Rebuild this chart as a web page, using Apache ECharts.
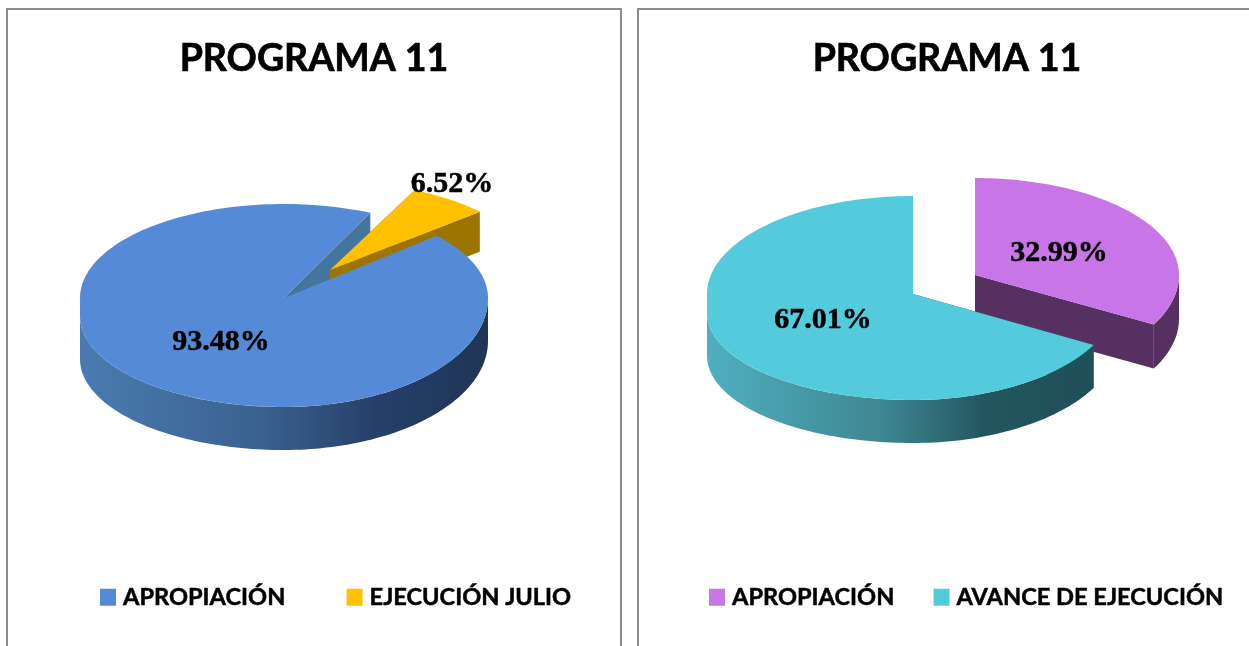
<!DOCTYPE html>
<html>
<head>
<meta charset="utf-8">
<style>html,body{margin:0;padding:0;background:#fff;overflow:hidden}#c{width:1249px;height:646px}</style>
<script src="https://cdn.jsdelivr.net/npm/echarts@6/dist/echarts.min.js"></script>
</head>
<body>
<div id="c"></div>
<script>
var titleText = 'PROGRAMA 11';
var leftCategories = ['APROPIACIÓN', 'EJECUCIÓN JULIO'];
var leftValues = [93.48, 6.52];
var rightCategories = ['APROPIACIÓN', 'AVANCE DE EJECUCIÓN'];
var rightValues = [32.99, 67.01];
var leftColors = ['#558bd6', '#ffc000'];
var rightColors = ['#c875e8', '#53cbdc'];

// projected-pie layout (pixels), independent of the values
var leftLayout = [
  {cx:284, cy:298, rx:204, top:94, bottom:109, flank:18, h:43, wallZ:1, topZ:4, label:[-63,44],
   cut:'#44759f', wall:['#4a7bb0','#3a618f','#26406a','#1f3557']},
  {cx:330, cy:270, rx:200, top:88, bottom:88, flank:0, h:40, wallZ:2, topZ:3, label:[122,-86],
   cut:'#9c7500', wall:['#9c7500','#9c7500','#9c7500','#9c7500']}
];
var rightLayout = [
  {cx:975, cy:275, rx:204, top:97, bottom:103, flank:0, h:44, wallZ:1, topZ:2, label:[84,-22],
   cut:'#563060', wall:['#563060','#563060','#563060','#563060']},
  {cx:913, cy:294, rx:206, top:98, bottom:106, flank:19, h:43, wallZ:3, topZ:4, label:[-90,26],
   cut:'#1f5a62', wall:['#4fafbf','#3f8793','#22565f','#1f4f58']}
];
var leftStart = 41.5, rightStart = 90;

function sliceSeries(name, values, index, start, layout, color) {
  var total = values.reduce(function (a, b) { return a + b; }, 0);
  var before = values.slice(0, index).reduce(function (a, b) { return a + b; }, 0);
  var t0 = start - before / total * 360;
  var t1 = t0 - values[index] / total * 360;
  function pt(t, dy) {
    var r = t * Math.PI / 180, s = Math.sin(r), k = Math.cos(r), y;
    if (s >= 0) y = layout.cy - s * layout.top;
    else if (k < 0) y = layout.cy + layout.flank - s * (layout.bottom - layout.flank);
    else y = layout.cy - s * layout.bottom;
    return [layout.cx + layout.rx * k, y + (dy || 0)];
  }
  function arc(dy, from, to) {
    var pts = [], n = Math.ceil(Math.abs(to - from) / 1.5);
    for (var i = 0; i <= n; i++) pts.push(pt(from + (to - from) * i / n, dy));
    return pts;
  }
  return {
    name: name,
    type: 'custom',
    coordinateSystem: 'none',
    itemStyle: {color: color},
    data: [values[index]],
    renderItem: function (params, api) {
      var c = [layout.cx, layout.cy], h = layout.h;
      var below = [layout.cx, layout.cy + h];
      var hi = Math.min(t0, 0), lo = Math.max(t1, -180);
      var wallFill = {type: 'linear', x: 0, y: 0, x2: 1, y2: 0, colorStops: [
        {offset: 0, color: layout.wall[0]}, {offset: 0.45, color: layout.wall[1]},
        {offset: 0.72, color: layout.wall[2]}, {offset: 1, color: layout.wall[3]}]};
      var cutA = [c, pt(t0), pt(t0, h), below];
      var cutB = [c, pt(t1), pt(t1, h), below];
      var v = api.value(0);
      var children = [
        {type: 'polygon', z2: layout.wallZ, shape: {points: cutA}, style: {fill: layout.cut}},
        {type: 'polygon', z2: layout.wallZ, shape: {points: cutB}, style: {fill: layout.cut}}
      ];
      if (hi > lo) {
        children.push({type: 'polygon', z2: layout.wallZ,
          shape: {points: arc(0, hi, lo).concat(arc(h, lo, hi))}, style: {fill: wallFill}});
      }
      children.push({type: 'polygon', z2: layout.topZ,
        shape: {points: [c].concat(arc(0, t0, t1))}, style: {fill: color}});
      children.push({type: 'text', z2: 10,
        style: {x: layout.cx + layout.label[0], y: layout.cy + layout.label[1],
                text: v.toFixed(2) + '%', fill: '#000', align: 'center', verticalAlign: 'middle',
                font: 'bold 30px "Liberation Serif"', stroke: '#000', lineWidth: 0.5}});
      return {type: 'group', children: children};
    }
  };
}

function legendData(names, colors) {
  return names.map(function (n, i) { return {name: n, itemStyle: {color: colors[i]}}; });
}
function legend(names, colors, left, gap) {
  return {
    left: left, top: 580, orient: 'horizontal', itemWidth: 16, itemHeight: 17, itemGap: gap,
    selectedMode: false, icon: 'rect', data: legendData(names, colors),
    textStyle: {fontFamily: 'Lato', fontWeight: 'bold', fontSize: 23.6, color: '#000', padding: [0, 0, 0, 2],
                textBorderColor: '#000', textBorderWidth: 0.5}
  };
}
function title(x) {
  return {text: titleText, left: x, top: 35, textAlign: 'center',
          textStyle: {fontFamily: 'Lato', fontWeight: 'bold', fontSize: 37.5, color: '#000',
                      textBorderColor: '#000', textBorderWidth: 0.7}};
}
function frame(x0, x1) {
  return {type: 'polyline', silent: true,
          shape: {points: [[x0, 660], [x0, 9], [x1, 9], [x1, 660]]},
          style: {fill: null, stroke: '#8c8c8c', lineWidth: 2}};
}

var series = [];
leftCategories.forEach(function (n, i) { series.push(sliceSeries(n, leftValues, i, leftStart, leftLayout[i], leftColors[i])); });
rightCategories.forEach(function (n, i) { series.push(sliceSeries(n, rightValues, i, rightStart, rightLayout[i], rightColors[i])); });

var chart = echarts.init(document.getElementById('c'), null, {renderer: 'canvas'});
chart.setOption({
  animation: false,
  backgroundColor: '#fff',
  title: [title(309), title(942)],
  legend: [legend(leftCategories, leftColors, 95, 61), legend(rightCategories, rightColors, 704, 39)],
  graphic: [frame(7, 621), frame(638, 1262)],
  series: series
});
</script>
</body>
</html>
